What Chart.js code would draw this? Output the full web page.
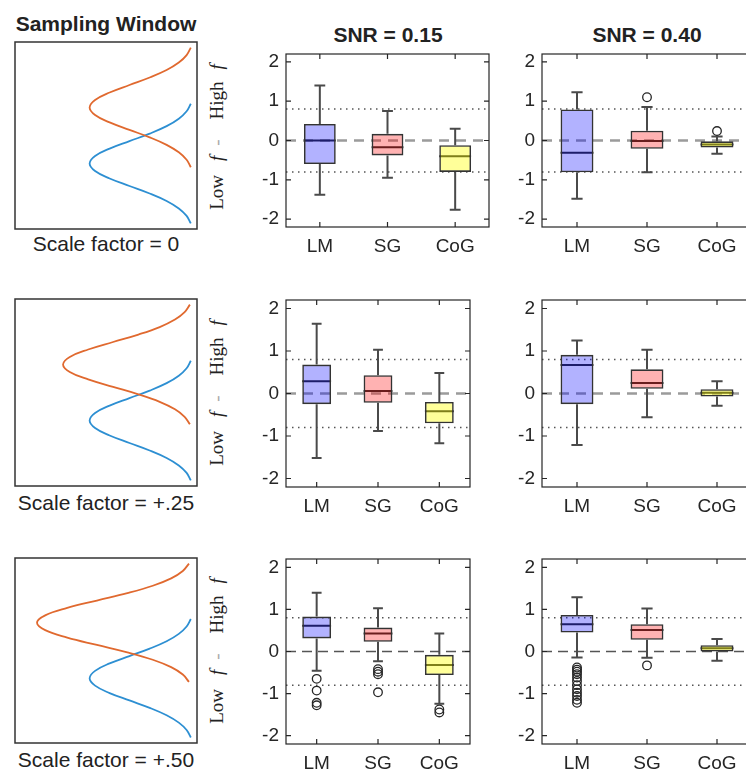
<!DOCTYPE html>
<html>
<head>
<meta charset="utf-8">
<script src="https://cdn.jsdelivr.net/npm/chart.js@4.4.1/dist/chart.umd.min.js"></script>
<style>
  html, body { margin: 0; padding: 0; background: #fff; }
  #fig { position: relative; width: 746px; height: 770px; overflow: hidden;
         font-family: "Liberation Sans", Arial, sans-serif; color: #222; }
  #fig canvas { position: absolute; }
  .t { position: absolute; white-space: nowrap; transform: translate(-50%, -50%); }
  .title { font-weight: bold; font-size: 21px; }
  .cap { font-size: 21px; }
  .ylab { font-family: "Liberation Serif", "DejaVu Serif", serif; font-size: 19px;
          transform: translate(-50%, -50%) rotate(-90deg); }
  .ylab i { font-style: italic; }
  .ylab .d { color: #aaa; margin: 0 20px 0 10px; }
  .ylab .g1 { margin-left: 14px; }
  .ylab .g2 { margin-left: 12px; }
</style>
</head>
<body>
<div id="fig">
  <div class="t title" style="left:106px;top:24px">Sampling Window</div>
  <div class="t title" style="left:388px;top:35px">SNR = 0.15</div>
  <div class="t title" style="left:647px;top:35px">SNR = 0.40</div>
  <div class="t cap" style="left:106px;top:244px">Scale factor = 0</div>
  <div class="t cap" style="left:106px;top:503px">Scale factor = +.25</div>
  <div class="t cap" style="left:106px;top:760px">Scale factor = +.50</div>
  <div class="t ylab" style="left:217px;top:137px">Low<i class="g1">f</i><span class="d">-</span>High<i class="g2">f</i></div>
  <div class="t ylab" style="left:217px;top:393px">Low<i class="g1">f</i><span class="d">-</span>High<i class="g2">f</i></div>
  <div class="t ylab" style="left:217px;top:651px">Low<i class="g1">f</i><span class="d">-</span>High<i class="g2">f</i></div>
</div>
<script>
// categories and axis ticks
const methods = ["LM", "SG", "CoG"];
const yTicks = [-2, -1, 0, 1, 2];
const refLevels = [-0.8, 0.8];

// box stats per method: [lower whisker, Q1, median, Q3, upper whisker]
const sf0_snr015 = [[-1.38, -0.60, 0.00, 0.42, 1.40], [-0.95, -0.38, -0.17, 0.17, 0.75], [-1.76, -0.80, -0.40, -0.12, 0.30]];
const sf0_snr040 = [[-1.48, -0.81, -0.31, 0.79, 1.23], [-0.81, -0.21, -0.01, 0.25, 0.85], [-0.34, -0.18, -0.10, -0.02, 0.10]];
const sf25_snr015 = [[-1.52, -0.25, 0.29, 0.68, 1.64], [-0.88, -0.22, 0.06, 0.43, 1.03], [-1.17, -0.70, -0.42, -0.20, 0.48]];
const sf25_snr040 = [[-1.21, -0.25, 0.67, 0.91, 1.25], [-0.56, 0.11, 0.25, 0.57, 1.03], [-0.29, -0.07, 0.02, 0.10, 0.29]];
const sf50_snr015 = [[-0.46, 0.31, 0.61, 0.83, 1.40], [-0.23, 0.23, 0.43, 0.57, 1.03], [-1.24, -0.56, -0.32, -0.08, 0.43]];
const sf50_snr040 = [[-0.14, 0.45, 0.65, 0.87, 1.29], [-0.15, 0.28, 0.51, 0.65, 1.02], [-0.22, 0.00, 0.08, 0.15, 0.30]];

// outliers per method
const sf0_snr015_out = [[], [], []];
const sf0_snr040_out = [[], [1.10], [0.24]];
const sf25_snr015_out = [[], [], []];
const sf25_snr040_out = [[], [], []];
const sf50_snr015_out = [[-0.65, -0.93, -1.22, -1.28], [-0.42, -0.48, -0.54, -0.97], [-1.38, -1.45]];
const sf50_snr040_out = [[-0.38, -0.43, -0.48, -0.54, -0.62, -0.70, -0.80, -0.90, -0.98, -1.06, -1.15, -1.22], [-0.33], []];

// sampling window curves (x = amplitude, y = frequency, both 0..1 inside the frame)
const blueY = [0.03, 0.07, 0.11, 0.15, 0.19, 0.23, 0.27, 0.31, 0.35, 0.39, 0.43, 0.47, 0.51, 0.55, 0.59, 0.63, 0.67];
const blueX = [0.966, 0.943, 0.900, 0.833, 0.740, 0.629, 0.520, 0.440, 0.410, 0.440, 0.520, 0.629, 0.740, 0.833, 0.900, 0.943, 0.966];
const orangeY = [0.33, 0.37, 0.41, 0.45, 0.49, 0.53, 0.57, 0.61, 0.65, 0.69, 0.73, 0.77, 0.81, 0.85, 0.89, 0.93, 0.97];
const orangeX0 = [0.966, 0.943, 0.900, 0.833, 0.740, 0.629, 0.520, 0.440, 0.410, 0.440, 0.520, 0.629, 0.740, 0.833, 0.900, 0.943, 0.966];
const orangeX25 = [0.961, 0.932, 0.879, 0.795, 0.678, 0.539, 0.402, 0.301, 0.264, 0.301, 0.402, 0.539, 0.678, 0.795, 0.879, 0.932, 0.961];
const orangeX50 = [0.956, 0.922, 0.858, 0.757, 0.617, 0.450, 0.287, 0.166, 0.121, 0.166, 0.287, 0.450, 0.617, 0.757, 0.858, 0.922, 0.956];

const FONT = "'Liberation Sans', Arial, sans-serif";
const boxFill = ["rgba(0,0,255,0.30)", "rgba(255,0,0,0.30)", "rgba(255,255,0,0.40)"];
const fig = document.getElementById("fig");

// frame around the plot area plus inward tick marks
const framePlugin = {
  id: "frame",
  afterDatasetsDraw(chart, args, opts) {
    const { ctx, chartArea: a, scales } = chart;
    ctx.save();
    ctx.strokeStyle = opts.color || "#262626";
    ctx.lineWidth = opts.width || 1.2;
    ctx.strokeRect(a.left, a.top, a.right - a.left, a.bottom - a.top);
    if (opts.ticks) {
      const L = 5;
      ctx.beginPath();
      scales.x.ticks.forEach(t => {
        const px = scales.x.getPixelForValue(t.value);
        ctx.moveTo(px, a.bottom); ctx.lineTo(px, a.bottom - L);
        ctx.moveTo(px, a.top); ctx.lineTo(px, a.top + L);
      });
      scales.y.ticks.forEach(t => {
        const py = scales.y.getPixelForValue(t.value);
        ctx.moveTo(a.left, py); ctx.lineTo(a.left + L, py);
        ctx.moveTo(a.right, py); ctx.lineTo(a.right - L, py);
      });
      ctx.stroke();
    }
    ctx.restore();
  }
};

function addCanvas(left, top, w, h) {
  const cv = document.createElement("canvas");
  cv.width = w; cv.height = h;
  cv.style.left = left + "px"; cv.style.top = top + "px";
  fig.appendChild(cv);
  return cv;
}

function boxPanel(left, top, w, h, stats, outs, zero) {
  const padL = 34, padT = 8, padR = 8, padB = 34;
  const cv = addCanvas(left - padL, top - padT, w + padL + padR, h + padT + padB);
  const hw = 0.235, cw = 0.08;

  const medians = [], whiskers = [], outliers = [];
  stats.forEach((s, i) => {
    const x = i + 1;
    medians.push({ x: x - hw, y: s[2] }, { x: x + hw, y: s[2] }, { x: x, y: null });
    whiskers.push({ x: x, y: s[3] }, { x: x, y: s[4] }, { x: x, y: null });
    whiskers.push({ x: x, y: s[1] }, { x: x, y: s[0] }, { x: x, y: null });
    whiskers.push({ x: x - cw, y: s[4] }, { x: x + cw, y: s[4] }, { x: x, y: null });
    whiskers.push({ x: x - cw, y: s[0] }, { x: x + cw, y: s[0] }, { x: x, y: null });
    outs[i].forEach(v => outliers.push({ x: x, y: v }));
  });
  const dotted = [];
  refLevels.forEach(v => dotted.push({ x: 0.5, y: v }, { x: 3.5, y: v }, { x: 2, y: null }));

  const line = (data, color, width, dash, order) => ({
    type: "line", data, borderColor: color, borderWidth: width, borderDash: dash,
    pointRadius: 0, fill: false, tension: 0, spanGaps: false, order
  });

  new Chart(cv, {
    type: "bar",
    data: {
      datasets: [
        { type: "scatter", data: outliers, pointStyle: "circle", pointRadius: 4.3,
          borderColor: "#262626", backgroundColor: "rgba(0,0,0,0)", borderWidth: 1.3, order: 0 },
        { type: "bar", data: stats.map((s, i) => ({ x: i + 1, y: [s[1], s[3]] })),
          backgroundColor: boxFill, borderColor: "#333", borderWidth: 1.6, borderSkipped: false,
          barPercentage: 2 * hw, categoryPercentage: 1, order: 1 },
        line(medians, "#2a2a2a", 2, [], 2),
        line(whiskers, "#4a4a4a", 2, [], 2),
        line([{ x: 0.5, y: 0 }, { x: 3.5, y: 0 }], zero.color, zero.width, zero.dash, 3),
        line(dotted, "#555", 1.5, [1.5, 4.5], 3)
      ]
    },
    options: {
      responsive: false, animation: false, devicePixelRatio: 1,
      layout: { padding: { top: padT, right: padR, left: 0, bottom: 0 } },
      plugins: { legend: { display: false }, tooltip: { enabled: false }, frame: { ticks: true } },
      scales: {
        x: {
          type: "linear", min: 0.5, max: 3.5, offset: false,
          grid: { display: false, drawTicks: false }, border: { display: false },
          afterBuildTicks: s => { s.ticks = methods.map((m, i) => ({ value: i + 1 })); },
          afterFit: s => { s.height = padB; s.paddingLeft = 0; s.paddingRight = 0; },
          ticks: { callback: v => methods[v - 1], font: { size: 19, family: FONT },
                   color: "#262626", padding: 8, autoSkip: false, maxRotation: 0 }
        },
        y: {
          type: "linear", min: -2.2, max: 2.2,
          grid: { display: false, drawTicks: false }, border: { display: false },
          afterBuildTicks: s => { s.ticks = yTicks.map(v => ({ value: v })); },
          afterFit: s => { s.width = padL; s.paddingTop = 0; s.paddingBottom = 0; },
          ticks: { font: { size: 19, family: FONT }, color: "#262626", padding: 7 }
        }
      }
    },
    plugins: [framePlugin]
  });
}

function windowPanel(left, top, w, h, orangeX) {
  const cv = addCanvas(left - 2, top - 2, w + 4, h + 4);
  new Chart(cv, {
    type: "scatter",
    data: {
      datasets: [
        { data: orangeY.map((y, i) => ({ x: orangeX[i], y })), showLine: true,
          borderColor: "#e0692f", borderWidth: 1.8, pointRadius: 0, tension: 0.4 },
        { data: blueY.map((y, i) => ({ x: blueX[i], y })), showLine: true,
          borderColor: "#2d8fd2", borderWidth: 1.8, pointRadius: 0, tension: 0.4 }
      ]
    },
    options: {
      responsive: false, animation: false, devicePixelRatio: 1,
      layout: { padding: 2 },
      plugins: { legend: { display: false }, tooltip: { enabled: false },
                 frame: { ticks: false, color: "#333", width: 1.5 } },
      scales: {
        x: { display: false, min: 0, max: 1 },
        y: { display: false, min: 0, max: 1 }
      }
    },
    plugins: [framePlugin]
  });
}

const grayDash = { color: "#9b9b9b", width: 2.5, dash: [10, 7] };
const darkDash = { color: "#555", width: 1.5, dash: [10, 6] };

// row 1: scale factor 0
windowPanel(15, 42, 182, 187, orangeX0);
boxPanel(286, 54, 203, 173, sf0_snr015, sf0_snr015_out, grayDash);
boxPanel(542, 54, 210, 173, sf0_snr040, sf0_snr040_out, grayDash);
// row 2: scale factor +.25
windowPanel(15, 299, 182, 187, orangeX25);
boxPanel(286, 300, 184, 187, sf25_snr015, sf25_snr015_out, grayDash);
boxPanel(542, 300, 210, 187, sf25_snr040, sf25_snr040_out, grayDash);
// row 3: scale factor +.50
windowPanel(15, 558, 182, 185, orangeX50);
boxPanel(286, 559, 184, 185, sf50_snr015, sf50_snr015_out, darkDash);
boxPanel(542, 559, 210, 185, sf50_snr040, sf50_snr040_out, darkDash);
</script>
</body>
</html>
